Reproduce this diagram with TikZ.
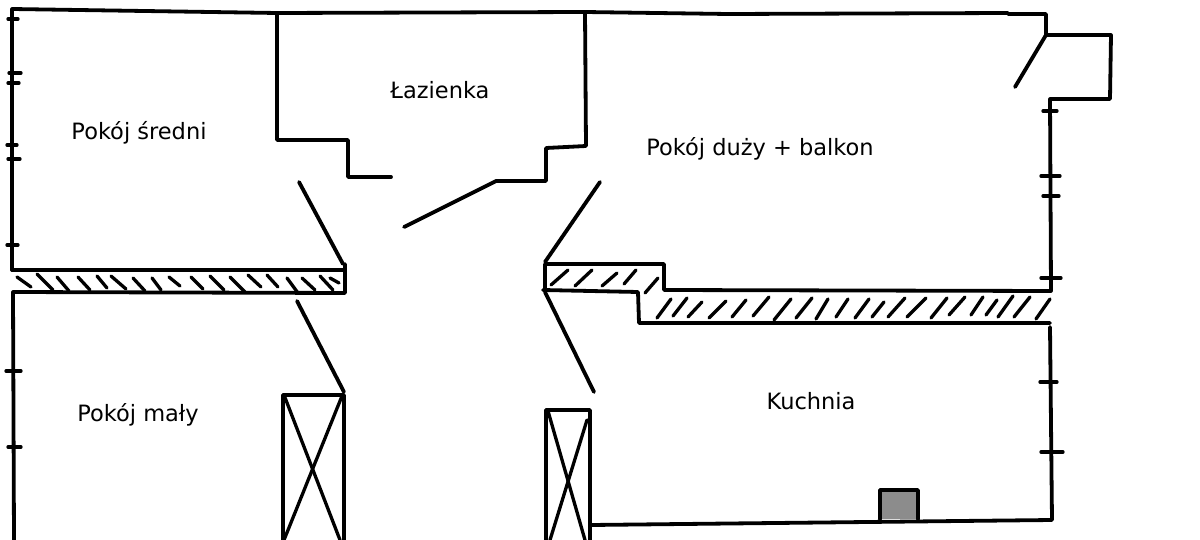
\documentclass[tikz,border=0pt]{standalone}
\usepackage{fontspec}
\setmainfont{DejaVu Sans}
\begin{document}
\begin{tikzpicture}[x=1pt, y=-1pt, wall/.style = {line width=3.8pt, line cap=round, line join=round}, thin wall/.style = {line width=3.3pt, line cap=round, line join=round}, label/.style = {font=\fontsize{22.5}{24}\selectfont, inner sep=0pt}]
      \useasboundingbox (0,0) rectangle (1200,540);
      % outer walls
      \draw[wall] (12,270) -- (12,9) -- (277,13) -- (585,12) -- (728,14) -- (1008,13);
      \draw[wall] (1008,14) -- (1046,14) -- (1046,35) -- (1111,35) -- (1110,99) -- (1050,99) -- (1051,291) -- (664,290) -- (664,264) -- (545,264) -- (545,291);
      \draw[wall] (543,290) -- (638,292) -- (639,323) -- (1050,323);
      \draw[wall] (12,270) -- (344,270);
      \draw[wall] (345,264) -- (345,293) -- (13,292) -- (14,540);
      \draw[wall] (1050,327) -- (1052,520) -- (591,525);
      % bathroom
      \draw[wall] (277,13) -- (277,140) -- (348,140) -- (348,177) -- (391,177);
      \draw[wall] (585,12) -- (586,146) -- (546,148) -- (546,181) -- (496,181) -- (404,227);
      % doors
      \draw[wall] (299,182) -- (343,264);
      \draw[wall] (600,182) -- (545,262);
      \draw[wall] (297,301) -- (344,392);
      \draw[wall] (545,292) -- (594,392);
      \draw[wall] (1046,35) -- (1015,87);
      % wardrobes
      \draw[wall] (283,540) -- (283,395) -- (344,395) -- (344,540);
      \draw[thin wall] (284,395) -- (340,540);
      \draw[thin wall] (342,396) -- (284,540);
      \draw[wall] (546,540) -- (546,410) -- (590,410) -- (590,540);
      \draw[thin wall] (548,411) -- (585,540);
      \draw[thin wall] (587,420) -- (550,540);
      % stove
      \draw[wall, fill={rgb,255:red,140;green,140;blue,140}] (880,519) -- (880,490) -- (918,490) -- (918,519);
      % window marks
      \foreach \ya/\xa/\xb in {19/8/18, 73/9/21, 83/8/19, 145/7/17, 159/8/20, 245/7/18, 371/6/21, 447/8/21, 111/1043/1057, 176/1041/1060, 196/1043/1059, 278/1041/1061, 382/1040/1057, 452/1041/1063}
        \draw[thin wall] (\xa,\ya) -- (\xb,\ya);
      % hatching
      \foreach \xa/\ya/\xb/\yb in {17/277/31/287, 37/274/53/290, 57/277/69/291, 78/277/90/290, 97/276/107/288, 111/276/126/289, 133/278/145/291, 152/278/161/290, 169/277/180/286, 191/277/203/289, 210/276/224/290, 230/277/245/292, 248/275/261/287, 267/275/278/287, 287/278/298/293, 302/278/315/290, 320/276/333/290, 330/278/339/283,
        551/285/568/270, 575/286/592/270, 602/286/617/273, 624/284/636/270, 645/293/658/278,
        657/318/671/299, 673/316/687/298, 688/317/702/302, 709/318/726/301, 732/317/746/300, 753/316/769/297, 774/320/791/299, 796/318/812/298, 816/319/828/299, 836/317/848/299, 855/318/869/299, 872/317/884/302, 888/317/905/298, 907/317/926/298, 931/318/947/298, 949/315/965/297, 971/315/983/297, 986/315/997/300, 998/317/1013/296, 1014/317/1030/297, 1036/319/1050/299}
        \draw[thin wall] (\xa,\ya) -- (\xb,\yb);
      % room names
      \node[label] (sredni) at (139,133) {Pokój średni};
      \node[label] (lazienka) at (440,90.5) {Łazienka};
      \node[label] (duzy) at (760,149) {Pokój duży + balkon};
      \node[label] (maly) at (138,415) {Pokój mały};
      \node[label] (kuchnia) at (811,401) {Kuchnia};
    \end{tikzpicture}
\end{document}
